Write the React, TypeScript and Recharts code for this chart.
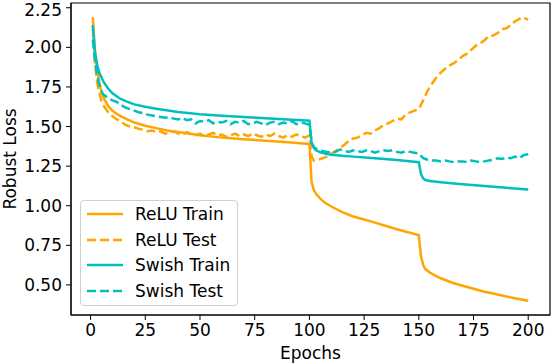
import React from "react";
import { LineChart, Line, XAxis, YAxis, Legend, ReferenceArea } from "recharts";

const ORANGE = "#FFA500";
const CYAN = "#00BFBF";

const reluTrainEpochs = [1, 2, 3, 4, 5, 6, 8, 10, 13, 16, 20, 25, 30, 35, 40, 50, 60, 70, 80, 90, 100, 101, 102, 103, 105, 107, 110, 115, 120, 125, 130, 135, 140, 145, 150, 151, 152, 153, 155, 158, 160, 165, 170, 175, 180, 185, 190, 195, 200];
const reluTrainLoss = [2.19, 1.98, 1.86, 1.78, 1.72, 1.68, 1.63, 1.6, 1.57, 1.55, 1.525, 1.505, 1.49, 1.475, 1.465, 1.445, 1.43, 1.42, 1.41, 1.4, 1.39, 1.15, 1.1, 1.075, 1.045, 1.02, 0.995, 0.96, 0.932, 0.913, 0.893, 0.872, 0.851, 0.833, 0.813, 0.68, 0.625, 0.6, 0.578, 0.555, 0.542, 0.515, 0.495, 0.476, 0.457, 0.442, 0.427, 0.413, 0.4];

const swishTrainEpochs = [1, 2, 3, 4, 5, 6, 8, 10, 13, 16, 20, 25, 30, 40, 50, 60, 70, 80, 90, 100, 101, 102, 103, 105, 108, 110, 115, 120, 130, 140, 150, 151, 152, 153, 155, 160, 170, 180, 190, 200];
const swishTrainLoss = [2.14, 1.97, 1.89, 1.84, 1.81, 1.78, 1.74, 1.71, 1.68, 1.66, 1.64, 1.625, 1.612, 1.592, 1.578, 1.568, 1.56, 1.553, 1.545, 1.537, 1.4, 1.365, 1.35, 1.337, 1.327, 1.322, 1.315, 1.31, 1.3, 1.288, 1.275, 1.2, 1.172, 1.162, 1.156, 1.148, 1.135, 1.124, 1.113, 1.103];

const reluTestEpochs = [1, 2, 3, 4, 5, 6, 8, 10, 12, 14, 16, 18, 20, 22, 24, 26, 28, 30, 32, 34, 36, 38, 40, 42, 44, 46, 48, 50, 52, 54, 56, 58, 60, 62, 64, 66, 68, 70, 72, 74, 76, 78, 80, 82, 84, 86, 88, 90, 92, 94, 96, 98, 100, 101, 102, 104, 106, 108, 110, 112, 114, 116, 118, 120, 122, 124, 126, 128, 130, 132, 134, 136, 138, 140, 142, 144, 146, 148, 150, 152, 154, 156, 158, 160, 162, 164, 166, 168, 170, 172, 174, 176, 178, 180, 182, 184, 186, 188, 190, 192, 194, 196, 197, 198, 200];
const reluTestLoss = [2.12, 1.9, 1.78, 1.71, 1.66, 1.63, 1.59, 1.565, 1.545, 1.53, 1.51, 1.5, 1.495, 1.485, 1.48, 1.47, 1.475, 1.465, 1.47, 1.455, 1.46, 1.47, 1.455, 1.45, 1.465, 1.45, 1.445, 1.455, 1.44, 1.45, 1.46, 1.445, 1.45, 1.435, 1.445, 1.455, 1.44, 1.45, 1.44, 1.455, 1.445, 1.435, 1.45, 1.44, 1.455, 1.44, 1.43, 1.445, 1.435, 1.45, 1.44, 1.43, 1.445, 1.31, 1.285, 1.29, 1.3, 1.31, 1.33, 1.345, 1.365, 1.385, 1.41, 1.425, 1.43, 1.445, 1.46, 1.455, 1.475, 1.49, 1.51, 1.52, 1.535, 1.55, 1.545, 1.575, 1.59, 1.6, 1.61, 1.665, 1.725, 1.77, 1.81, 1.84, 1.865, 1.885, 1.9, 1.92, 1.945, 1.96, 1.985, 2.01, 2.025, 2.045, 2.07, 2.075, 2.09, 2.115, 2.12, 2.14, 2.165, 2.18, 2.19, 2.185, 2.175];

const swishTestEpochs = [1, 2, 3, 4, 5, 6, 8, 10, 12, 14, 16, 18, 20, 22, 24, 26, 28, 30, 32, 34, 36, 38, 40, 42, 44, 46, 48, 50, 52, 54, 56, 58, 60, 62, 64, 66, 68, 70, 72, 74, 76, 78, 80, 82, 84, 86, 88, 90, 92, 94, 96, 98, 100, 101, 102, 104, 106, 108, 110, 112, 114, 116, 118, 120, 122, 124, 126, 128, 130, 132, 134, 136, 138, 140, 142, 144, 146, 148, 150, 152, 154, 156, 158, 160, 162, 164, 166, 168, 170, 172, 174, 176, 178, 180, 182, 184, 186, 188, 190, 192, 194, 196, 198, 200];
const swishTestLoss = [2.05, 1.91, 1.82, 1.76, 1.72, 1.7, 1.68, 1.665, 1.655, 1.635, 1.62, 1.61, 1.6, 1.59, 1.585, 1.575, 1.57, 1.565, 1.56, 1.555, 1.56, 1.55, 1.545, 1.555, 1.54, 1.545, 1.52, 1.535, 1.53, 1.54, 1.52, 1.53, 1.525, 1.535, 1.515, 1.53, 1.525, 1.535, 1.515, 1.52, 1.53, 1.52, 1.51, 1.525, 1.53, 1.515, 1.525, 1.52, 1.535, 1.515, 1.525, 1.52, 1.51, 1.4, 1.37, 1.35, 1.345, 1.34, 1.335, 1.34, 1.355, 1.345, 1.34, 1.35, 1.345, 1.34, 1.35, 1.345, 1.335, 1.345, 1.35, 1.345, 1.35, 1.34, 1.335, 1.345, 1.34, 1.335, 1.33, 1.3, 1.29, 1.285, 1.285, 1.28, 1.285, 1.28, 1.275, 1.28, 1.28, 1.275, 1.285, 1.28, 1.275, 1.28, 1.285, 1.29, 1.3, 1.295, 1.305, 1.3, 1.31, 1.3, 1.32, 1.325];

const xTicks = [0, 25, 50, 75, 100, 125, 150, 175, 200];
const yTicks = [0.5, 0.75, 1.0, 1.25, 1.5, 1.75, 2.0, 2.25];
const X_DOMAIN: [number, number] = [-8.95, 209.95];
const Y_DOMAIN: [number, number] = [0.31, 2.28];

const zip = (xs: number[], ys: number[]) => xs.map((epoch, i) => ({ epoch, loss: ys[i] }));

const series = [
    { name: "ReLU Train", color: ORANGE, dashed: false, data: zip(reluTrainEpochs, reluTrainLoss) },
    { name: "ReLU Test", color: ORANGE, dashed: true, data: zip(reluTestEpochs, reluTestLoss) },
    { name: "Swish Train", color: CYAN, dashed: false, data: zip(swishTrainEpochs, swishTrainLoss) },
    { name: "Swish Test", color: CYAN, dashed: true, data: zip(swishTestEpochs, swishTestLoss) },
];

const DASH = "9 4";
const tickStyle = { fontSize: 17, fill: "#000" };

function LegendBox() {
    return (
        <div
            style={{
                width: 158,
                height: 106,
                boxSizing: "border-box",
                border: "1px solid #d0d0d0",
                borderRadius: 4,
                background: "rgba(255,255,255,0.8)",
                padding: "0 0 0 5px",
            }}
        >
            {series.map((s) => (
                <div key={s.name} style={{ display: "flex", alignItems: "center", height: 25.7, marginTop: s.name === "ReLU Train" ? 0 : 0 }}>
                    <svg width={40} height={10} style={{ display: "block" }}>
                        <line x1={1} y1={5} x2={37} y2={5} stroke={s.color} strokeWidth={2.5} strokeDasharray={s.dashed ? DASH : undefined} />
                    </svg>
                    <span style={{ marginLeft: 9, fontSize: 17, color: "#000", lineHeight: "20px" }}>{s.name}</span>
                </div>
            ))}
        </div>
    );
}

export default function App() {
    return (
        <div style={{ position: "absolute", left: 0, top: 0, width: 552, height: 364, background: "#fff", fontFamily: "'DejaVu Sans', sans-serif" }}>
            <LineChart width={552} height={364} margin={{ top: 3, right: 2, bottom: 0, left: 0 }}>
                <XAxis
                    dataKey="epoch"
                    type="number"
                    domain={X_DOMAIN}
                    ticks={xTicks}
                    tick={tickStyle}
                    tickSize={5}
                    tickMargin={4}
                    height={49}
                    stroke="#000"
                    allowDataOverflow
                    label={{ value: "Epochs", position: "insideBottom", offset: 5, fontSize: 17, fill: "#000" }}
                />
                <YAxis
                    type="number"
                    domain={Y_DOMAIN}
                    ticks={yTicks}
                    tick={tickStyle}
                    tickFormatter={(v: number) => v.toFixed(2)}
                    tickSize={5}
                    tickMargin={4}
                    width={71}
                    stroke="#000"
                    allowDataOverflow
                    label={{ value: "Robust Loss", angle: -90, position: "insideLeft", offset: 10, textAnchor: "middle", fontSize: 17, fill: "#000" }}
                />
                <ReferenceArea x1={X_DOMAIN[0]} x2={X_DOMAIN[1]} y1={Y_DOMAIN[0]} y2={Y_DOMAIN[1]} fill="none" stroke="#000" strokeWidth={1.2} />
                {series.map((s) => (
                    <Line
                        key={s.name}
                        data={s.data}
                        dataKey="loss"
                        name={s.name}
                        type="linear"
                        stroke={s.color}
                        strokeWidth={2.5}
                        strokeDasharray={s.dashed ? DASH : undefined}
                        dot={false}
                        isAnimationActive={false}
                    />
                ))}
                <Legend
                    layout="vertical"
                    align="center"
                    verticalAlign="middle"
                    wrapperStyle={{ left: 80, top: 200, width: 158, height: 106 }}
                    content={() => <LegendBox />}
                />
            </LineChart>
        </div>
    );
}
